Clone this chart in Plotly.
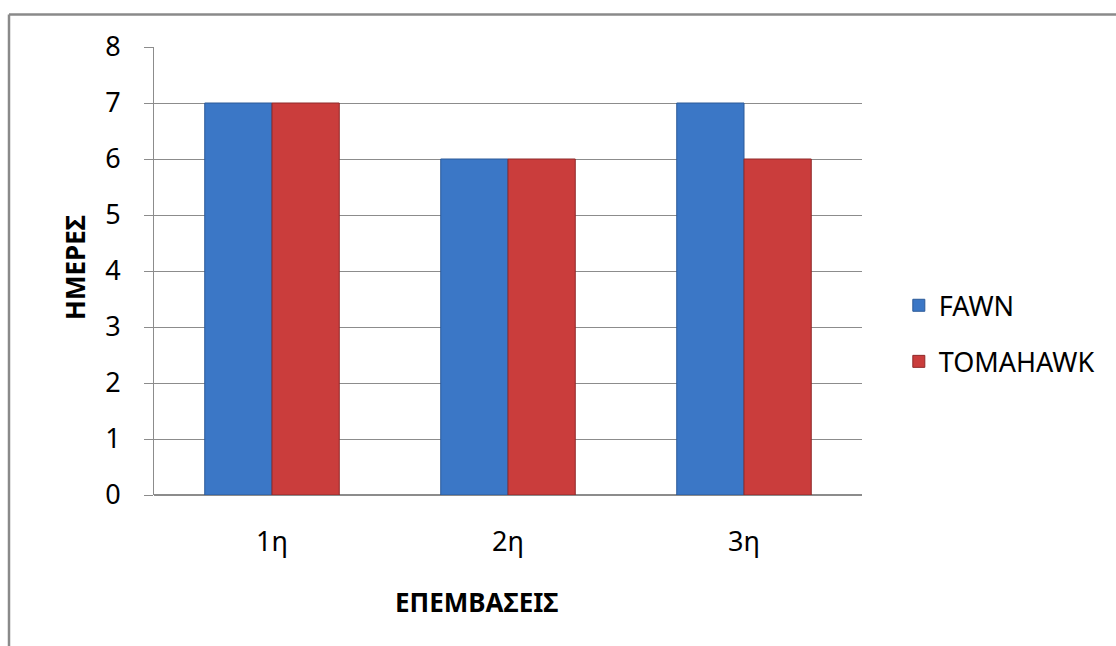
import plotly.graph_objects as go

# Interventions per product and days needed
categories = ["1η", "2η", "3η"]
fawn_days = [7, 6, 7]
tomahawk_days = [7, 6, 6]
y_ticks = [0, 1, 2, 3, 4, 5, 6, 7, 8]

FONT = "Noto Sans"
GRID = "#8c8c8c"

fig = go.Figure()
fig.add_trace(go.Bar(
    x=categories, y=fawn_days, name="FAWN", legendgroup="a",
    marker=dict(color="#3b77c6", line=dict(color="#2c5a98", width=1)),
))
fig.add_trace(go.Bar(
    x=categories, y=tomahawk_days, name="TOMAHAWK", legendgroup="b",
    marker=dict(color="#ca3d3c", line=dict(color="#8f2a2a", width=1)),
))

fig.update_layout(
    width=1116, height=646,
    margin=dict(l=154, r=254, t=47, b=151),
    paper_bgcolor="white", plot_bgcolor="white",
    barmode="group", bargap=0.43, bargroupgap=0,
    font=dict(family=FONT, size=27, color="#000000"),
    showlegend=True,
    legend=dict(
        x=1.052, xanchor="left", y=0.36, yanchor="middle",
        traceorder="grouped", tracegroupgap=18,
        font=dict(family=FONT, size=27, color="#000000"),
        bgcolor="rgba(0,0,0,0)",
    ),
    xaxis=dict(
        type="category", showgrid=False, ticks="",
        showline=False, ticklabelstandoff=28,
        tickfont=dict(family=FONT, size=27),
    ),
    yaxis=dict(
        range=[0, 8], tickvals=y_ticks, showgrid=True, gridcolor=GRID, gridwidth=1,
        zeroline=True, zerolinecolor=GRID, zerolinewidth=1.5,
        showline=True, linecolor=GRID, linewidth=1,
        ticks="outside", ticklen=9, tickcolor=GRID,
        ticklabelstandoff=18, tickfont=dict(family=FONT, size=27),
    ),
    annotations=[
        dict(text="<b>ΗΜΕΡΕΣ</b>", textangle=-90, xref="paper", yref="paper",
             x=(75 - 154) / 708, y=(495 - 268) / 448,
             xanchor="center", yanchor="middle", showarrow=False,
             font=dict(family=FONT, size=26)),
        dict(text="<b>ΕΠΕΜΒΑΣΕΙΣ</b>", xref="paper", yref="paper",
             x=(476 - 154) / 708, y=(495 - 602) / 448,
             xanchor="center", yanchor="middle", showarrow=False,
             font=dict(family=FONT, size=26)),
    ],
    shapes=[
        # chart frame (top and left edges)
        dict(type="line", xref="paper", yref="paper",
             x0=(9 - 154) / 708, x1=(1130 - 154) / 708,
             y0=(495 - 14.5) / 448, y1=(495 - 14.5) / 448,
             line=dict(color="#8a8a8a", width=2.5)),
        dict(type="line", xref="paper", yref="paper",
             x0=(9 - 154) / 708, x1=(9 - 154) / 708,
             y0=(495 - 14.5) / 448, y1=(495 - 660) / 448,
             line=dict(color="#8a8a8a", width=2.5)),
    ],
)

fig.write_html("out.html")
